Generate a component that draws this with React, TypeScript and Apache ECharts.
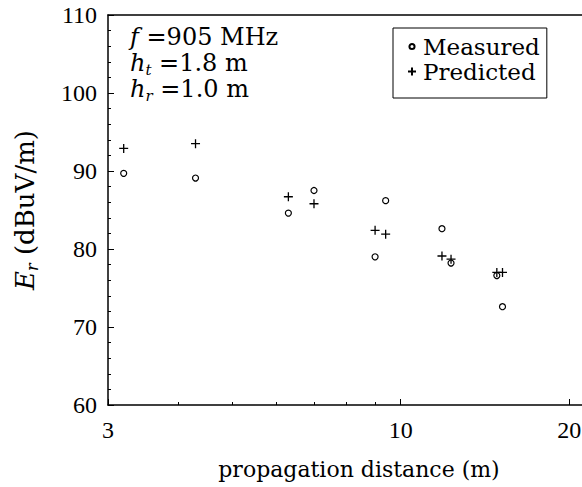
import React, { useEffect, useRef } from "react";
import * as echarts from "echarts";

// ---- data ----
const distances = [3.2, 4.3, 6.3, 7.0, 9.0, 9.4, 11.85, 12.3, 14.85, 15.2];
const measured = [89.7, 89.1, 84.6, 87.5, 79.0, 86.2, 82.6, 78.2, 76.6, 72.6];
const predicted = [92.9, 93.5, 86.7, 85.8, 82.4, 81.9, 79.1, 78.7, 77.0, 77.0];

const xMajorTicks = [3, 10, 20];
const xMinorTicks = [4, 5, 6, 7, 8, 9];
const xMin = 3;
const xMax = 21.08;
const yMin = 60;
const yMax = 110;
const yStep = 10;

const seriesNames = ["Measured", "Predicted"];
const annotationLines = [
  "{i|f}{n| =905 MHz}",
  "{i|h}{s|t}{n| =1.8 m}",
  "{i|h}{s|r}{n| =1.0 m}",
];

const NUM_FONT = '"Liberation Serif", "Times New Roman", serif';
const TXT_FONT = '"DejaVu Serif", "Liberation Serif", serif';
const PLUS = "path://M0,5L10,5M5,0L5,10";
const SMALL_CIRCLE = "path://M0,0M10,10M8.2,5A3.2,3.2,0,1,1,1.8,5A3.2,3.2,0,1,1,8.2,5Z";

export default function App() {
  const ref = useRef<HTMLDivElement>(null);

  useEffect(() => {
    const chart = echarts.init(ref.current as HTMLDivElement, null, { renderer: "svg" });

    const richBase = (size: number) => ({
      i: { fontFamily: TXT_FONT, fontStyle: "italic", fontSize: size, color: "#000", lineHeight: size + 4, verticalAlign: "middle" },
      s: { fontFamily: TXT_FONT, fontStyle: "italic", fontSize: Math.round(size * 0.62), color: "#000", verticalAlign: "bottom", lineHeight: size + 4 },
      n: { fontFamily: TXT_FONT, fontSize: size, color: "#000", lineHeight: size + 4, verticalAlign: "middle" },
    });

    const commonLog = {
      type: "log",
      logBase: 10,
      min: xMin,
      max: xMax,
      splitLine: { show: false },
      minorTick: { show: false },
      minorSplitLine: { show: false },
    };

    const option: any = {
      animation: false,
      backgroundColor: "#fff",
      grid: { left: 108, top: 15, right: 0, bottom: 82, containLabel: false, outerBoundsMode: "none" },
      legend: {
        orient: "vertical",
        left: 393,
        top: 28,
        data: [
          { name: seriesNames[0], icon: SMALL_CIRCLE },
          { name: seriesNames[1], icon: PLUS },
        ],
        borderColor: "#000",
        borderWidth: 1,
        padding: [6, 7, 14, 14],
        itemGap: 0,
        itemWidth: 8,
        itemHeight: 8,
        selectedMode: false,
        textStyle: { fontFamily: TXT_FONT, fontSize: 23, color: "#000", lineHeight: 25, padding: [0, 0, 0, 2] },
      },
      xAxis: [
        {
          ...commonLog,
          position: "bottom",
          axisLine: { show: true, onZero: false, lineStyle: { color: "#000", width: 1.5 } },
          axisTick: { show: true, inside: true, length: 6, customValues: xMajorTicks, lineStyle: { color: "#000", width: 1 } },
          axisLabel: { show: true, customValues: xMajorTicks, margin: 13, fontSize: 24, color: "#000", fontFamily: NUM_FONT },
          name: "propagation distance (m)",
          nameLocation: "middle",
          nameGap: 53,
          nameTextStyle: { fontFamily: TXT_FONT, fontSize: 22, color: "#000", padding: [0, 0, 0, 28] },
        },
        {
          ...commonLog,
          position: "bottom",
          axisLine: { show: false, onZero: false },
          axisTick: { show: true, inside: true, length: 3, customValues: xMinorTicks, lineStyle: { color: "#000", width: 1 } },
          axisLabel: { show: false },
        },
        {
          ...commonLog,
          position: "top",
          axisLine: { show: true, onZero: false, lineStyle: { color: "#000", width: 1.5 } },
          axisTick: { show: false },
          axisLabel: { show: false },
        },
      ],
      yAxis: {
        type: "value",
        min: yMin,
        max: yMax,
        interval: yStep,
        axisLine: { show: true, onZero: false, lineStyle: { color: "#000", width: 1.5 } },
        axisTick: { show: true, inside: true, length: 6, lineStyle: { color: "#000", width: 1 } },
        minorTick: { show: true, splitNumber: 5, length: 3, lineStyle: { color: "#000", width: 1 } },
        splitLine: { show: false },
        axisLabel: { margin: 11, fontSize: 24, color: "#000", fontFamily: NUM_FONT },
        name: "{i|E}{s|r}{n| (dBuV/m)}",
        nameLocation: "middle",
        nameGap: 68,
        nameTextStyle: { rich: richBase(26) },
      },
      series: [
        {
          name: seriesNames[0],
          type: "scatter",
          xAxisIndex: 0,
          symbol: "circle",
          symbolSize: 6,
          silent: true,
          itemStyle: { color: "#fff", borderColor: "#000", borderWidth: 1.2, opacity: 1 },
          data: distances.map((d, k) => [d, measured[k]]),
        },
        {
          name: seriesNames[1],
          type: "scatter",
          xAxisIndex: 0,
          symbol: PLUS,
          symbolSize: 9,
          silent: true,
          itemStyle: { color: "transparent", borderColor: "#000", borderWidth: 1.3, opacity: 1 },
          data: distances.map((d, k) => [d, predicted[k]]),
        },
      ],
      graphic: annotationLines.map((t, k) => ({
        type: "text",
        left: 130,
        top: 25 + k * 26,
        silent: true,
        style: { text: t, rich: richBase(24), fill: "#000" },
      })),
    };

    chart.setOption(option);
    return () => chart.dispose();
  }, []);

  return (
    <div
      ref={ref}
      style={{ position: "absolute", left: 0, top: 0, width: 582, height: 487, background: "#fff" }}
    />
  );
}
